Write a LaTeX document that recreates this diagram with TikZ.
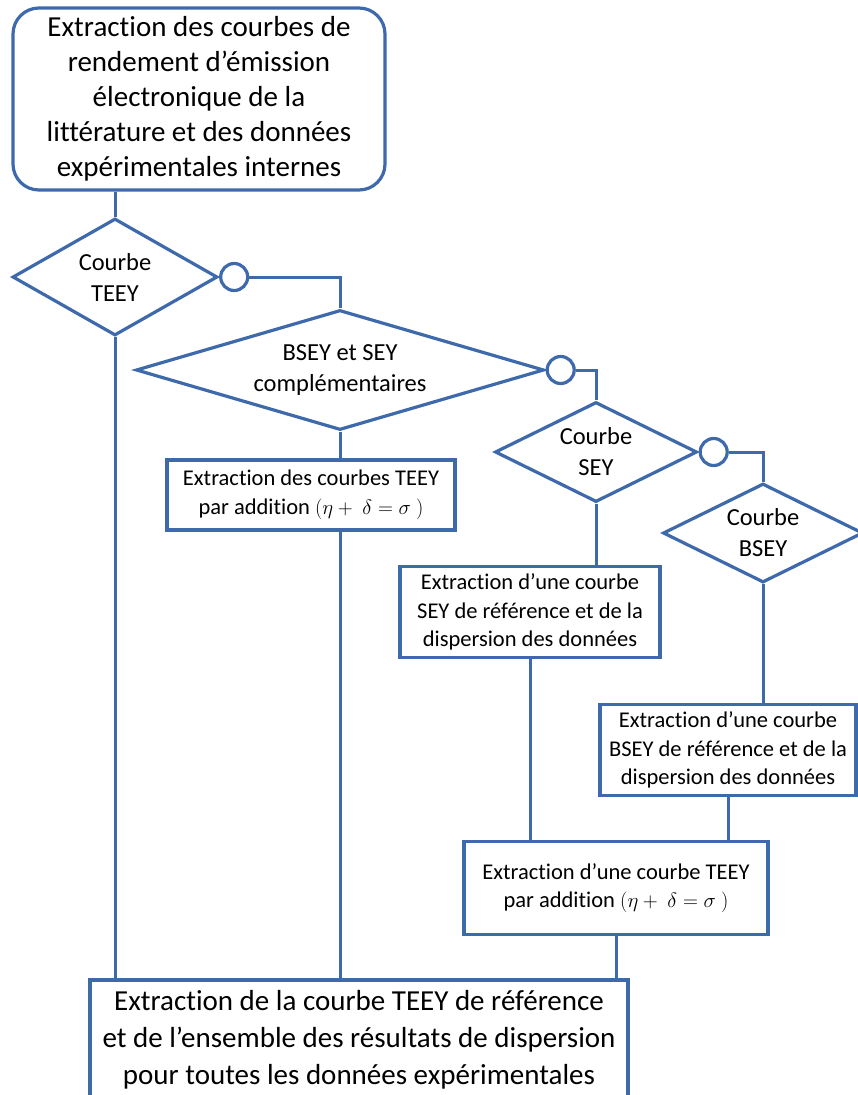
\documentclass[tikz,border=0pt]{standalone}
\usepackage{fontspec}
\setmainfont{Carlito}[Ligatures=NoCommon]
\usetikzlibrary{shapes.geometric}
\definecolor{lblue}{RGB}{62,106,172}

\begin{document}
\begin{tikzpicture}[x=1pt,y=-1pt]
\tikzstyle{start}=[rectangle, rounded corners=26pt, draw=lblue, line width=3.2pt, fill=white, align=center, inner sep=0pt]
\tikzstyle{decision}=[diamond, draw=lblue, line width=3.2pt, fill=white, align=center, inner sep=0pt, font=\fontsize{24.5}{31}\selectfont]
\tikzstyle{process}=[rectangle, draw=lblue, line width=3.2pt, fill=white, align=center, inner sep=0pt, font=\fontsize{22.5}{28.5}\selectfont]
\tikzstyle{junction}=[circle, draw=lblue, line width=3.2pt, fill=white, minimum size=27pt, inner sep=0pt]
\tikzstyle{connect}=[draw=lblue, line width=3pt]

\useasboundingbox (0,0) rectangle (858,1095);
\clip (0,0) rectangle (858,1095);

	\node[start, minimum width=372pt, minimum height=182pt, font=\fontsize{29}{35}\selectfont] (top) at (199,99)
		{Extraction des courbes de\\rendement d’émission\\électronique de la\\littérature et des données\\expérimentales internes};

	\node[decision, aspect=1.75, minimum width=205pt, minimum height=117pt] (d1) at (115,277) {Courbe\\TEEY};
	\node[decision, aspect=3.4, minimum width=408pt, minimum height=120pt] (d2) at (340,370) {BSEY et SEY\\complémentaires};
	\node[decision, aspect=2, minimum width=202pt, minimum height=100pt] (d3) at (596,452) {Courbe\\SEY};
	\node[decision, aspect=2, minimum width=200pt, minimum height=99pt] (d4) at (763,533) {Courbe\\BSEY};

	\node[junction, anchor=west] (c1) at (d1.east) {};
	\node[junction, anchor=west] (c2) at (d2.east) {};
	\node[junction, anchor=west] (c3) at (d3.east) {};

	\node[process, minimum width=288pt, minimum height=70pt] (add1) at (311,495)
		{Extraction des courbes TEEY\\par addition $(\eta +\ \delta = \sigma\ )$};
	\node[process, minimum width=260pt, minimum height=91pt] (sey) at (530,612)
		{Extraction d’une courbe\\SEY de référence et de la\\dispersion des données};
	\node[process, minimum width=256pt, minimum height=91pt] (bsey) at (728,750)
		{Extraction d’une courbe\\BSEY de référence et de la\\dispersion des données};
	\node[process, minimum width=304pt, minimum height=93pt] (add2) at (616,888)
		{Extraction d’une courbe TEEY\\par addition $(\eta +\ \delta = \sigma\ )$};
	\node[process, minimum width=538pt, minimum height=120pt, font=\fontsize{29}{37}\selectfont] (fin) at (359,1040)
		{Extraction de la courbe TEEY de référence\\et de l’ensemble des résultats de dispersion\\pour toutes les données expérimentales};

	\path[connect]
		(d1.north |- top.south) edge [] (d1.north)
		(d1.south) edge [] (d1.south |- fin.north)
		(d2.south) edge [] (d2.south |- add1.north)
		(d2.south |- add1.south) edge [] (d2.south |- fin.north)
		(d3.south) edge [] (d3.south |- sey.north)
		(d4.south) edge [] (d4.south |- bsey.north);

	\path[connect]
		(sey.south) edge [] (sey.south |- add2.north)
		(bsey.south) edge [] (bsey.south |- add2.north)
		(add2.south) edge [] (add2.south |- fin.north);

	\draw[connect] (c1) -| (d2.north);
	\draw[connect] (c2) -| (d3.north);
	\draw[connect] (c3) -| (d4.north);

\end{tikzpicture}
\end{document}
